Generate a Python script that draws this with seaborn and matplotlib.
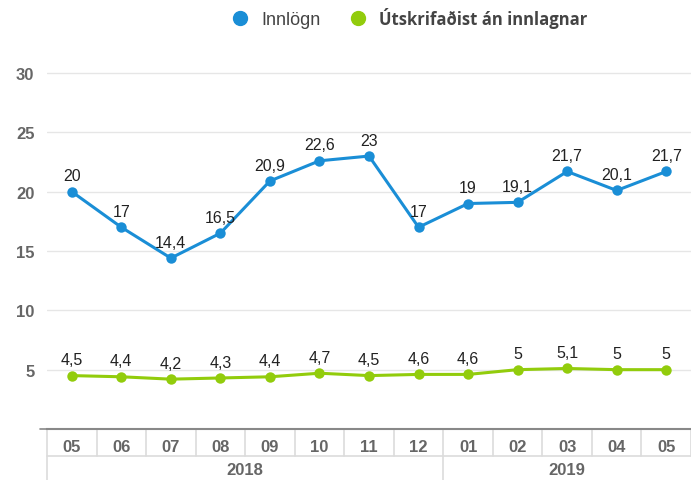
import pandas as pd
import numpy as np
import matplotlib.pyplot as plt
import matplotlib.transforms as mtransforms
from matplotlib.lines import Line2D
import seaborn as sns

months = ["05", "06", "07", "08", "09", "10", "11", "12", "01", "02", "03", "04", "05"]
years = ["2018", "2019"]
year_span = [8, 5]
innlogn = [20, 17, 14.4, 16.5, 20.9, 22.6, 23, 17, 19, 19.1, 21.7, 20.1, 21.7]
utskrifadist = [4.5, 4.4, 4.2, 4.3, 4.4, 4.7, 4.5, 4.6, 4.6, 5, 5.1, 5, 5]
series_names = ["Innlögn", "Útskrifaðist án innlagnar"]
colors = ["#1a8ed6", "#92cc0c"]

sns.set_style("white")
plt.rcParams['font.family'] = ['Liberation Sans Narrow', 'Liberation Sans', 'DejaVu Sans']

df = pd.DataFrame({
    "pos": list(range(len(months))) * 2,
    "value": innlogn + utskrifadist,
    "series": [series_names[0]] * len(months) + [series_names[1]] * len(months),
})

fig = plt.figure(figsize=(6.91, 4.81), dpi=100)
ax = fig.add_axes([47 / 691, 51 / 481, 1 - 47 / 691, 375 / 481])

sns.lineplot(data=df, x="pos", y="value", hue="series", palette=colors,
             marker="o", markersize=7.5, markeredgewidth=0, linewidth=2.2,
             legend=False, ax=ax)

# data labels
for vals, name in zip([innlogn, utskrifadist], series_names):
    for i, v in enumerate(vals):
        txt = f"{v:g}".replace(".", ",")
        ax.annotate(txt, (i, v), xytext=(0, 6), textcoords="offset points",
                    ha="center", va="bottom", fontsize=11.5, color="#222222",
                    family=['Liberation Sans', 'DejaVu Sans'])

ax.set_xlim(-0.5, len(months) - 0.5)
ax.set_ylim(0, 31.6)
ax.set_yticks([5, 10, 15, 20, 25, 30])
ax.yaxis.grid(True, color="#e6e6e6", linewidth=1)
ax.set_axisbelow(True)
for s in ["top", "right", "left"]:
    ax.spines[s].set_visible(False)
ax.spines["bottom"].set_color("#888888")
ax.spines["bottom"].set_linewidth(1.5)
ax.tick_params(axis="y", length=5, width=1, color="#666666", labelsize=12,
               labelcolor="#666666", pad=4)
for lab in ax.get_yticklabels():
    lab.set_fontweight("bold")
ax.set_xlabel("")
ax.set_ylabel("")

# month row as a table
ax.set_xticks(range(len(months)))
ax.set_xticklabels(months, fontsize=12, fontweight="bold", color="#666666")
ax.tick_params(axis="x", length=0, pad=7)

trans = mtransforms.blended_transform_factory(ax.transData, ax.transAxes)
row1 = -27 / 375
row2 = -51 / 375
grid_c = "#dcdcdc"
for i in range(len(months) + 1):
    x = i - 0.5
    bottom = row2 if i in (0, year_span[0]) else row1
    ax.plot([x, x], [0, bottom], transform=trans, color=grid_c, lw=1.2, clip_on=False)
ax.plot([-0.5, len(months) - 0.5], [row1, row1], transform=trans, color=grid_c, lw=1.2,
        clip_on=False)
ax.plot([-0.65, -0.5], [0, 0], transform=trans, color="#888888", lw=1.2, clip_on=False)

start = 0
for yr, n in zip(years, year_span):
    ax.text(start + (n - 1) / 2, (row1 + row2) / 2 - 0.005, yr, transform=trans,
            ha="center", va="center", fontsize=12, fontweight="bold", color="#666666")
    start += n

handles = [Line2D([], [], marker="o", linestyle="", markersize=10, color=c) for c in colors]
leg = fig.legend(handles, series_names, loc="center", bbox_to_anchor=(0.587, 0.962),
                 ncol=2, frameon=False, fontsize=12, handletextpad=0.3, columnspacing=1.2)
for t in leg.get_texts():
    t.set_color("#444444")
    t.set_family(['Open Sans', 'DejaVu Sans'])
leg.get_texts()[0].set_family(['Liberation Sans Narrow', 'Liberation Sans'])
leg.get_texts()[0].set_fontsize(13)
leg.get_texts()[1].set_fontweight("bold")

fig.savefig("out.png", dpi=100)
